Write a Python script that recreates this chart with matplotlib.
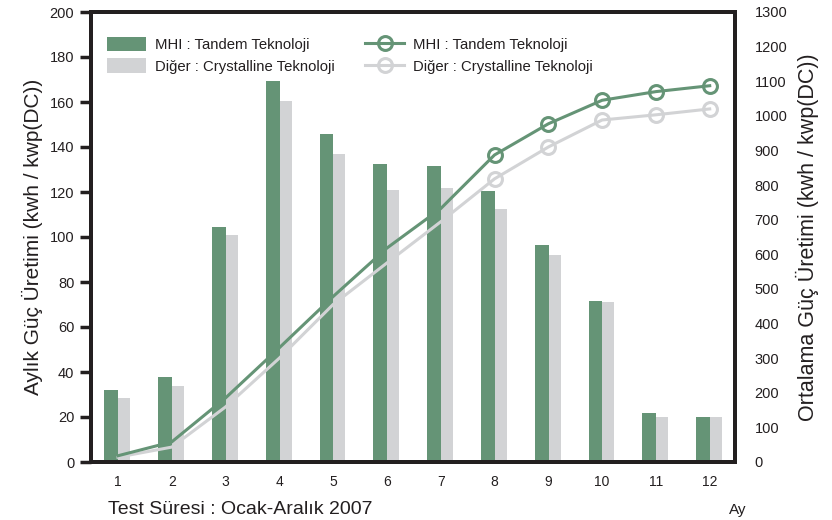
import matplotlib
matplotlib.use("Agg")
import matplotlib.pyplot as plt
from matplotlib.patches import Patch
from matplotlib.lines import Line2D

plt.rcParams['font.family'] = ['Liberation Sans', 'DejaVu Sans']

months = [1, 2, 3, 4, 5, 6, 7, 8, 9, 10, 11, 12]
month_labels = ['1', '2', '3', '4', '5', '6', '7', '8', '9', '10', '11', '12']
mhi_monthly = [32, 38, 104.5, 169.5, 146, 132.5, 131.5, 120.5, 96.5, 71.5, 22, 20]
other_monthly = [28.5, 34, 101, 160.5, 137, 121, 122, 112.5, 92, 71, 20, 20]
mhi_avg = [18, 58, 185, 330, 478, 618, 732, 887, 977, 1045, 1070, 1087]
other_avg = [14, 43, 159, 300, 455, 575, 694, 818, 910, 988, 1003, 1020]
left_ticks = [0, 20, 40, 60, 80, 100, 120, 140, 160, 180, 200]
right_ticks = [0, 100, 200, 300, 400, 500, 600, 700, 800, 900, 1000, 1100, 1200, 1300]

green = '#659476'
grey = '#d2d3d5'
dark = '#231f20'

fig = plt.figure(figsize=(8.32, 5.2), dpi=100)
ax = fig.add_axes([91/832, 1-462/520, (735-91)/832, (462-12)/520])
ax2 = ax.twinx()

ax.bar([m - 0.25 for m in months], mhi_monthly, width=0.255, align='edge', color=green, zorder=2)
ax.bar([m + 0.005 for m in months], other_monthly, width=0.225, align='edge', color=grey, zorder=2)

ax.set_xlim(0.5, 12.47)
ax.set_ylim(0, 200)
ax.set_yticks(left_ticks)
ax.set_yticklabels([str(t) for t in left_ticks], fontsize=10.5, color=dark)
ax.set_xticks(months)
ax.set_xticklabels(month_labels, fontsize=10, color=dark)
ax.tick_params(axis='y', direction='out', length=8, width=2.5, color=dark, pad=4)
ax.tick_params(axis='x', length=0, pad=9)

ax2.plot(months, other_avg, color=grey, lw=2.2, marker='o', ms=10, mfc='none', mew=2.2,
         markevery=list(range(7, 12)), zorder=3)
ax2.plot(months, mhi_avg, color=green, lw=2.2, marker='o', ms=10, mfc='none', mew=2.2,
         markevery=list(range(7, 12)), zorder=4)
ax2.set_ylim(0, 1300)
ax2.set_yticks(right_ticks)
ax2.set_yticklabels([str(t) for t in right_ticks], fontsize=10.5, color=dark)
ax2.tick_params(axis='y', length=0, pad=14)

for a in (ax, ax2):
    for s in a.spines.values():
        s.set_linewidth(2.8)
        s.set_color(dark)

ax.set_ylabel('Aylık Güç Üretimi (kwh / kwp(DC))', fontsize=15, color=dark, labelpad=5)
ax2.set_ylabel('Ortalama Güç Üretimi (kwh / kwp(DC))', fontsize=15.5, color=dark, labelpad=6)

handles = [
    Patch(facecolor=green, edgecolor='none'),
    Patch(facecolor=grey, edgecolor='none'),
    Line2D([0], [0], color=green, lw=2.2, marker='o', ms=10, mfc='none', mew=2.2),
    Line2D([0], [0], color=grey, lw=2.2, marker='o', ms=10, mfc='none', mew=2.2),
]
labels = ['MHI : Tandem Teknoloji', 'Diğer : Crystalline Teknoloji',
          'MHI : Tandem Teknoloji', 'Diğer : Crystalline Teknoloji']
ax2.legend(handles, labels, ncol=2, loc='upper left', bbox_to_anchor=(0.004, 0.975),
           frameon=False, fontsize=10.7, handlelength=2.6, handleheight=1.1,
           handletextpad=0.6, columnspacing=2.1, labelspacing=0.45, labelcolor=dark)

fig.text(108/832, 2/520, 'Test Süresi : Ocak-Aralık 2007', fontsize=14, color=dark,
         ha='left', va='bottom')
fig.text(738/832, 1-503/520, 'Ay', fontsize=11, color=dark, ha='center', va='top')

fig.savefig('out.png', dpi=100)
